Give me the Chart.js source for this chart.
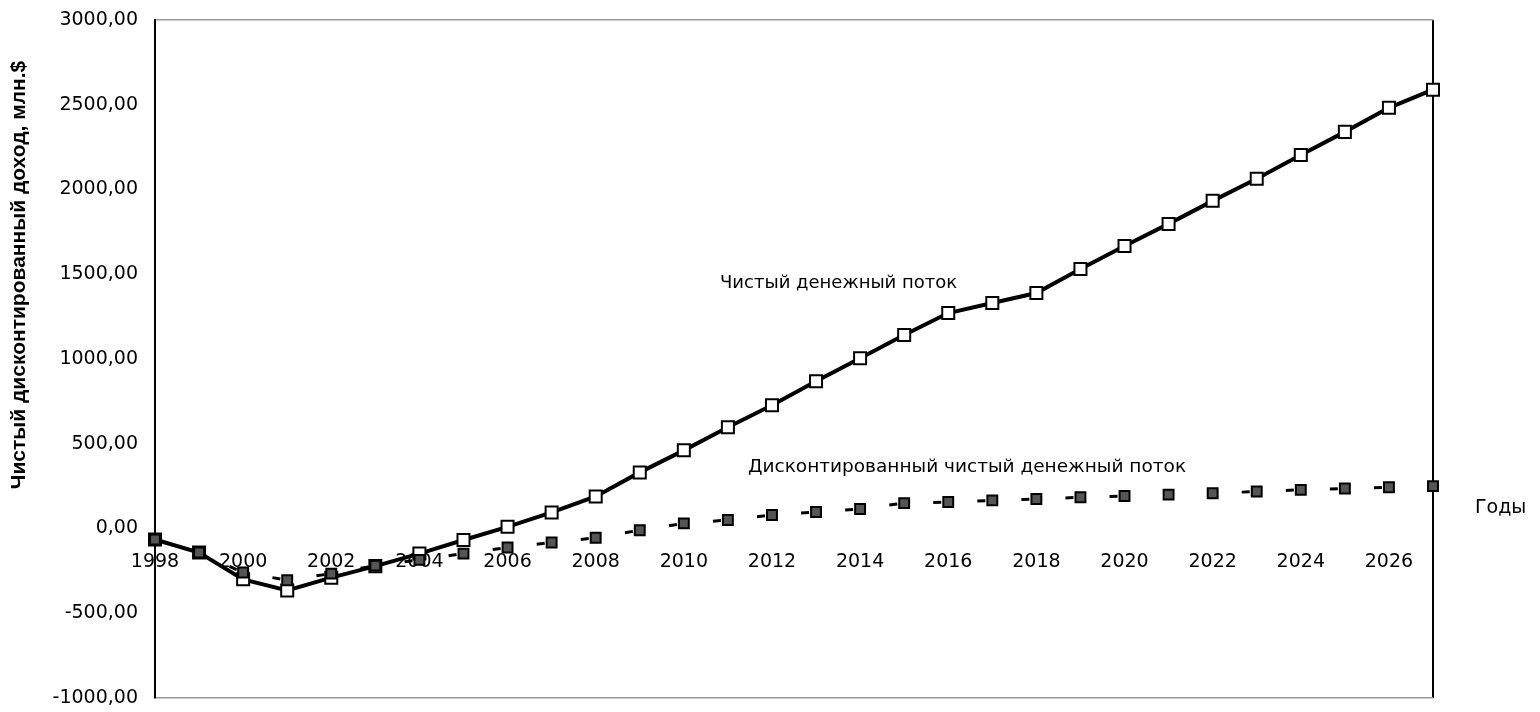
<!DOCTYPE html>
<html><head><meta charset="utf-8">
<script src="https://cdn.jsdelivr.net/npm/chart.js@4/dist/chart.umd.min.js"></script>
<style>html,body{margin:0;padding:0;background:#fff}#wrap{width:1540px;height:712px}</style>
</head><body><div id="wrap"><canvas id="c" width="1540" height="712"></canvas></div>
<script>
const years = ['1998','1999','2000','2001','2002','2003','2004','2005','2006','2007','2008','2009','2010','2011','2012','2013','2014','2015','2016','2017','2018','2019','2020','2021','2022','2023','2024','2025','2026','2027'];
const netFlow = [-65,-142,-300,-366,-290,-222,-148,-68,10,95,189,331,461,597,727,869,1005,1141,1271,1330,1389,1531,1667,1797,1933,2063,2204,2340,2482,2589];
const discFlow = [-65,-142,-260,-305,-266,-219,-185,-148,-112,-83,-55,-10,30,50,80,97,115,150,156,166,174,184,192,200,208,218,228,236,243,250];
const yTicks = [-1000,-500,0,500,1000,1500,2000,2500,3000];
const yTitle = 'Чистый дисконтированный доход, млн.$';
const xTitle = 'Годы';
const netLabel = 'Чистый денежный поток';
const discLabel = 'Дисконтированный чистый денежный поток';

const tickFont = {family:'DejaVu Sans', size:19};

const textPlugin = {
  id:'texts',
  afterDatasetsDraw(chart){
    const {ctx, chartArea, scales:{x,y}} = chart;
    ctx.save();
    ctx.fillStyle = '#000';
    ctx.textBaseline = 'middle';
    ctx.textAlign = 'left';
    ctx.font = '18px "DejaVu Sans"';
    ctx.fillText(netLabel, 720, 283);
    ctx.font = '18.5px "DejaVu Sans"';
    ctx.fillText(discLabel, 748, 467);
    ctx.font = '19px "DejaVu Sans"';
    ctx.fillText(xTitle, chartArea.right + 42, y.getPixelForValue(0) - 20);
    ctx.translate(19, 275);
    ctx.rotate(-Math.PI/2);
    ctx.textAlign = 'center';
    ctx.font = 'bold 21px "Liberation Sans"';
    ctx.fillText(yTitle, 0, 0);
    ctx.restore();
  }
};

new Chart(document.getElementById('c'), {
  type:'line',
  data:{
    labels: years,
    datasets:[
      {
        label: discLabel,
        data: discFlow,
        borderColor:'#000',
        borderWidth:3,
        borderDash:[8,3000],
        segment:{
          borderDashOffset:(c)=>{
            const L = Math.hypot(c.p1.x-c.p0.x, c.p1.y-c.p0.y);
            return 15 - L;
          }
        },
        pointStyle:'rect',
        pointRadius:7,
        pointBorderWidth:2,
        pointBackgroundColor:'#555',
        pointBorderColor:'#000',
        tension:0
      },
      {
        label: netLabel,
        data: netFlow,
        borderColor:'#000',
        borderWidth:4,
        pointStyle:'rect',
        pointRadius:8.5,
        pointBorderWidth:2,
        pointBackgroundColor:'#fff',
        pointBorderColor:'#000',
        tension:0
      }
    ]
  },
  options:{
    responsive:false,
    animation:false,
    layout:{padding:{left:0,right:107,top:20,bottom:14}},
    plugins:{legend:{display:false}, tooltip:{enabled:false}},
    scales:{
      x:{
        type:'category',
        offset:false,
        position:{y:0},
        border:{display:false},
        grid:{
          drawTicks:false,
          color:(c)=> c.index===years.length-1 ? '#000' : 'rgba(0,0,0,0)',
          lineWidth:2
        },
        ticks:{
          autoSkip:false, maxRotation:0, padding:22,
          color:'#000', font:tickFont,
          callback:(v,i)=> i%2===0 ? years[i] : ''
        }
      },
      y:{
        min:-1000, max:3000,
        afterBuildTicks:(s)=>{ s.ticks = yTicks.map(v=>({value:v})); },
        afterFit:(s)=>{ s.width = 155; s.paddingTop = 0; s.paddingBottom = 0; },
        border:{display:true,color:'#000',width:2},
        grid:{
          drawTicks:false,
          color:(c)=> (c.tick && (c.tick.value===3000 || c.tick.value===-1000)) ? '#9a9a9a' : 'rgba(0,0,0,0)',
          lineWidth:1.5
        },
        ticks:{
          padding:17, color:'#000', font:tickFont,
          callback:(v)=> v.toFixed(2).replace('.',',')
        }
      }
    }
  },
  plugins:[textPlugin]
});
</script></body></html>
